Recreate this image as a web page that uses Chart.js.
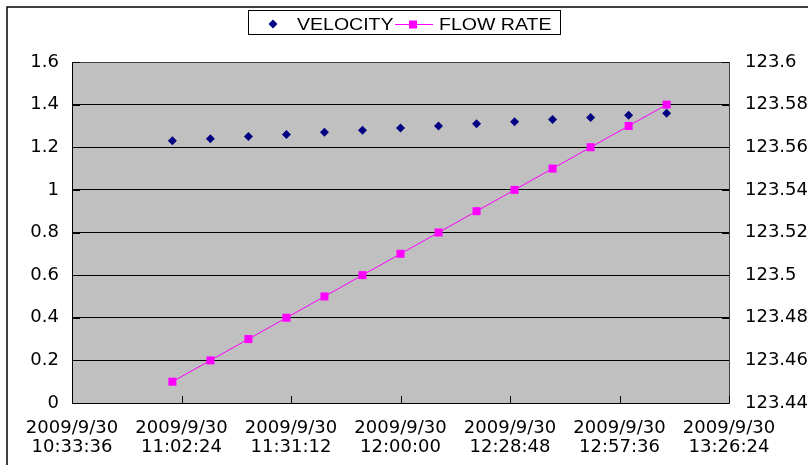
<!DOCTYPE html>
<html lang="en">
  <head>
    <meta charset="utf-8" />
    <title>Velocity / Flow Rate</title>
    <style>
      body { margin: 0; background: #fff; }
      #wrap { width: 808px; height: 465px; position: relative; }
    </style>
  </head>
  <body>
    <div id="wrap">
      <canvas id="canvas"></canvas>
    </div>

    <script src="https://cdn.jsdelivr.net/npm/chart.js"></script>

    <script>
      const day = "2009/9/30";
      const startTime = "10:33:36";
      const times = [
        "11:00:00", "11:10:00", "11:20:00", "11:30:00", "11:40:00", "11:50:00", "12:00:00",
        "12:10:00", "12:20:00", "12:30:00", "12:40:00", "12:50:00", "13:00:00", "13:10:00",
      ];
      const velocity = [1.23, 1.24, 1.25, 1.26, 1.27, 1.28, 1.29, 1.3, 1.31, 1.32, 1.33, 1.34, 1.35, 1.36];
      const flowRate = [
        123.45, 123.46, 123.47, 123.48, 123.49, 123.5, 123.51,
        123.52, 123.53, 123.54, 123.55, 123.56, 123.57, 123.58,
      ];
      const tickStep = 1728; // 28:48 between axis labels
      const tickCount = 6;

      function toSec(t) {
        const p = t.split(":").map(Number);
        return p[0] * 3600 + p[1] * 60 + p[2];
      }
      function pad(n) {
        return String(n).padStart(2, "0");
      }
      function clock(sec) {
        const s = Math.round(sec);
        return pad(Math.floor(s / 3600)) + ":" + pad(Math.floor((s % 3600) / 60)) + ":" + pad(s % 60);
      }
      const t0 = toSec(startTime);
      const xs = times.map((t) => toSec(t) - t0);
      const trim = (v) => String(Number(v.toFixed(2)));

      const tickFont = { family: "'DejaVu Sans', sans-serif", size: 18 };

      const chartDecor = {
        id: "chartDecor",
        beforeDraw(chart) {
          const { ctx, chartArea: a } = chart;
          ctx.save();
          ctx.fillStyle = "#fff";
          ctx.fillRect(0, 0, chart.width, chart.height);
          ctx.fillStyle = "#c0c0c0";
          ctx.fillRect(a.left, a.top, a.right - a.left, a.bottom - a.top);
          ctx.restore();
        },
        afterDraw(chart) {
          const { ctx, chartArea: a, scales } = chart;
          ctx.save();

          // short inward tick marks
          ctx.strokeStyle = "#000";
          ctx.lineWidth = 1;
          ctx.beginPath();
          scales.x.ticks.forEach((t) => {
            const px = Math.round(scales.x.getPixelForValue(t.value)) + 0.5;
            ctx.moveTo(px, a.bottom - 7);
            ctx.lineTo(px, a.bottom);
          });
          scales.y.ticks.forEach((t) => {
            const py = Math.round(scales.y.getPixelForValue(t.value)) + 0.5;
            ctx.moveTo(a.left, py);
            ctx.lineTo(a.left + 8, py);
          });
          scales.y1.ticks.forEach((t) => {
            const py = Math.round(scales.y1.getPixelForValue(t.value)) + 0.5;
            ctx.moveTo(a.right - 7, py);
            ctx.lineTo(a.right, py);
          });
          ctx.stroke();

          // outer frame (top and left)
          ctx.lineWidth = 1.5;
          ctx.beginPath();
          ctx.moveTo(7, chart.height);
          ctx.lineTo(7, 7);
          ctx.lineTo(chart.width, 7);
          ctx.stroke();

          // legend box
          ctx.fillStyle = "#fff";
          ctx.fillRect(248.5, 10.5, 312, 24);
          ctx.lineWidth = 1;
          ctx.strokeRect(248.5, 10.5, 312, 24);

          const ds = chart.data.datasets;
          // velocity marker
          ctx.fillStyle = ds[0].backgroundColor;
          ctx.beginPath();
          ctx.moveTo(273, 19.5);
          ctx.lineTo(277.5, 24);
          ctx.lineTo(273, 28.5);
          ctx.lineTo(268.5, 24);
          ctx.closePath();
          ctx.fill();

          // flow rate line + marker
          ctx.strokeStyle = ds[1].borderColor;
          ctx.beginPath();
          ctx.moveTo(395, 24.5);
          ctx.lineTo(433, 24.5);
          ctx.stroke();
          ctx.fillStyle = ds[1].backgroundColor;
          ctx.fillRect(409, 20.5, 8, 8);

          ctx.fillStyle = "#000";
          ctx.font = "16px 'Liberation Sans', Arial, sans-serif";
          ctx.textBaseline = "alphabetic";
          [[ds[0].label, 297], [ds[1].label, 439]].forEach(([txt, x]) => {
            ctx.save();
            ctx.translate(x, 30);
            ctx.scale(1.22, 1);
            ctx.fillText(txt, 0, 0);
            ctx.restore();
          });
          ctx.restore();
        },
      };

      new Chart(document.getElementById("canvas"), {
        type: "line",
        data: {
          datasets: [
            {
              label: "VELOCITY",
              data: xs.map((x, i) => ({ x, y: velocity[i] })),
              yAxisID: "y",
              showLine: false,
              pointStyle: "rectRot",
              pointRadius: 4.5,
              pointBorderWidth: 0,
              backgroundColor: "#000080",
              borderColor: "#000080",
            },
            {
              label: "FLOW RATE",
              data: xs.map((x, i) => ({ x, y: flowRate[i] })),
              yAxisID: "y1",
              borderColor: "#ff00ff",
              backgroundColor: "#ff00ff",
              borderWidth: 1,
              pointStyle: "rect",
              pointRadius: 5.66,
              pointBorderWidth: 0,
              tension: 0,
            },
          ],
        },
        options: {
          responsive: true,
          maintainAspectRatio: false,
          animation: false,
          layout: { padding: { top: 62, left: 0, right: 0, bottom: 0 } },
          plugins: {
            legend: { display: false },
            tooltip: { enabled: false },
          },
          scales: {
            x: {
              type: "linear",
              min: 0,
              max: tickStep * tickCount,
              afterFit(s) {
                s.height = 62;
              },
              grid: { drawOnChartArea: false, drawTicks: false },
              border: { color: "#000", width: 1 },
              ticks: {
                stepSize: tickStep,
                autoSkip: false,
                maxRotation: 0,
                padding: 15,
                color: "#000",
                font: { ...tickFont, lineHeight: 1.1 },
                callback: (v) => [day, clock(t0 + v)],
              },
            },
            y: {
              position: "left",
              min: 0,
              max: 1.6,
              afterFit(s) {
                s.width = 72;
              },
              grid: {
                drawTicks: false,
                color: (c) => (c.tick && c.tick.value >= 1.6 ? "#404040" : "#000"),
              },
              border: { color: "#000", width: 1 },
              ticks: {
                stepSize: 0.2,
                padding: 13,
                color: "#000",
                font: tickFont,
                callback: (v) => trim(v),
              },
            },
            y1: {
              position: "right",
              min: 123.44,
              max: 123.6,
              afterFit(s) {
                s.width = 79;
              },
              grid: { drawOnChartArea: false, drawTicks: false },
              border: { color: "#404040", width: 1 },
              ticks: {
                stepSize: 0.02,
                padding: 16,
                color: "#000",
                font: tickFont,
                callback: (v) => trim(v),
              },
            },
          },
        },
        plugins: [chartDecor],
      });
    </script>
  </body>
</html>
